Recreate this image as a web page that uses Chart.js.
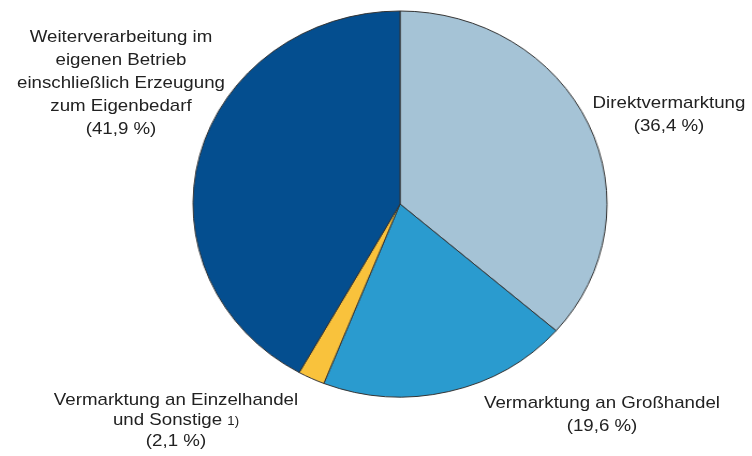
<!DOCTYPE html>
<html>
<head>
<meta charset="utf-8">
<script src="https://cdn.jsdelivr.net/npm/chart.js@4.4.1/dist/chart.umd.min.js"></script>
<style>
  html, body { margin: 0; padding: 0; background: #fff; }
  #wrap { position: relative; width: 752px; height: 456px; overflow: hidden; }
  #pieBox { position: absolute; left: 200px; top: 4px; width: 400px; height: 400px;
            transform: scaleX(1.0725); transform-origin: 200px 200px; }
  .lbl { position: absolute; font-family: "Liberation Sans", Arial, sans-serif; font-size: 17px;
         color: #222; text-align: center; white-space: nowrap;
         transform: translateX(-50%) scaleX(1.1); }
  .fn { font-size: 12px; }
</style>
</head>
<body>
<div id="wrap">
  <div id="pieBox"><canvas id="myChart" width="400" height="400"></canvas></div>
  <div id="labels"></div>
</div>
<script>
// Anteile der Absatzwege (im Uhrzeigersinn ab 12 Uhr)
const categories = [
    ['Direktvermarktung'],
    ['Vermarktung an Großhandel'],
    ['Vermarktung an Einzelhandel', 'und Sonstige <span class="fn">1)</span>'],
    ['Weiterverarbeitung im', 'eigenen Betrieb', 'einschließlich Erzeugung', 'zum Eigenbedarf']
];
const shares = [36.4, 19.6, 2.1, 41.9];
const shareLabels = ['(36,4 %)', '(19,6 %)', '(2,1 %)', '(41,9 %)'];
const colors = ['#a5c3d6', '#2a9bcf', '#f9c23c', '#044e8f'];

// Label-Positionen: Mitte x, oben y, Zeilenabstand
const labelPos = [[669, 91, 23], [602, 391, 23], [176, 390, 20], [121, 25, 23]];

function main() {
    const config = {
        type: 'pie',
        data: {
            labels: categories.map(c => c[0]),
            datasets: [{
                data: shares,
                backgroundColor: colors,
                borderColor: '#333333',
                borderWidth: 1,
                hoverOffset: 0
            }]
        },
        options: {
            responsive: false,
            animation: false,
            radius: 193,
            layout: { padding: 0 },
            plugins: {
                legend: { display: false },
                tooltip: { enabled: false }
            }
        }
    };
    new Chart(document.getElementById('myChart'), config);

    // Beschriftungen
    const box = document.getElementById('labels');
    categories.forEach((lines, i) => {
        const div = document.createElement('div');
        div.className = 'lbl';
        div.style.left = labelPos[i][0] + 'px';
        div.style.top = labelPos[i][1] + 'px';
        div.style.lineHeight = labelPos[i][2] + 'px';
        div.innerHTML = lines.concat([shareLabels[i]]).join('<br>');
        box.appendChild(div);
    });
}

document.addEventListener('DOMContentLoaded', function () {
    main();
});
</script>
</body>
</html>
